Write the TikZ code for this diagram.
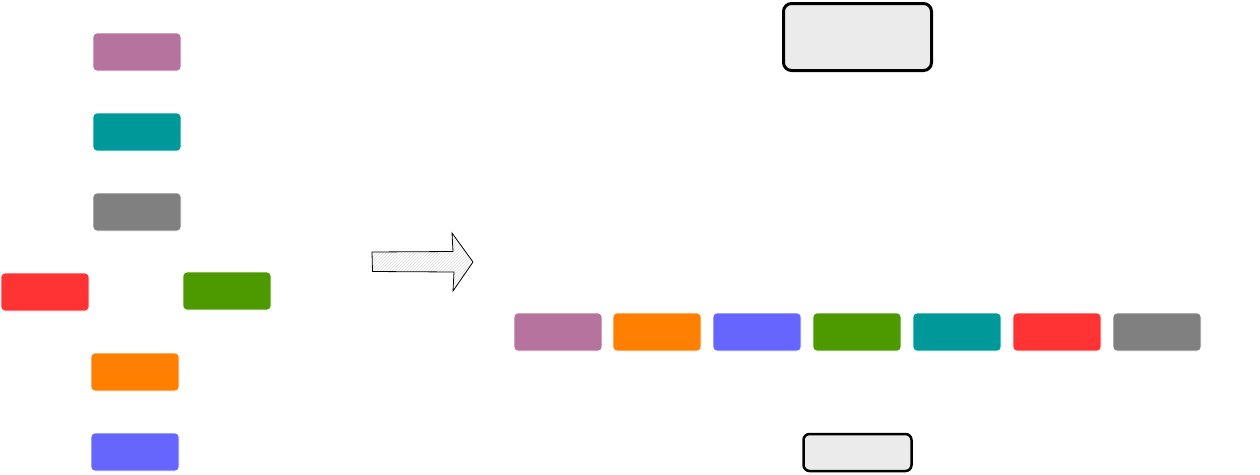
\documentclass[tikz,border=0pt]{standalone}
\usetikzlibrary{patterns}
\definecolor{cpurple}{HTML}{B5739D}
\definecolor{cteal}{HTML}{009999}
\definecolor{cgray}{HTML}{808080}
\definecolor{cred}{HTML}{FF3333}
\definecolor{cgreen}{HTML}{4D9900}
\definecolor{corange}{HTML}{FF8000}
\definecolor{cblue}{HTML}{6666FF}
\definecolor{cbox}{HTML}{EBEBEB}
\begin{document}
\begin{tikzpicture}[x=1pt,y=-1pt,
  tag/.style={draw=white,line width=0.6pt,rounded corners=4pt,minimum width=88pt,minimum height=38pt,inner sep=0pt},
  bigbox/.style={draw=black,line width=3pt,fill=cbox,rounded corners=8pt,inner sep=0pt}]
\useasboundingbox (0,0) rectangle (1260,474);
% left column
\node[tag,fill=cpurple] (l1) at (137,52) {};
\node[tag,fill=cteal]   (l2) at (137,132) {};
\node[tag,fill=cgray]   (l3) at (137,212) {};
\node[tag,fill=cred]    (l4) at (45,292) {};
\node[tag,fill=cgreen]  (l5) at (227,291) {};
\node[tag,fill=corange] (l6) at (135,372) {};
\node[tag,fill=cblue]   (l7) at (135,452) {};
% arrow
\draw[line width=0.8pt,pattern=north east lines,pattern color=gray!30,line join=miter]
  (372,252) -- (453,251.5) -- (452,233) -- (473,262) -- (453,291) -- (454,272) -- (372.5,271.5) -- cycle;
% right row
\node[tag,fill=cpurple] (r1) at (558,332) {};
\node[tag,fill=corange] (r2) at (657,332) {};
\node[tag,fill=cblue]   (r3) at (757,332) {};
\node[tag,fill=cgreen]  (r4) at (857,332) {};
\node[tag,fill=cteal]   (r5) at (957,332) {};
\node[tag,fill=cred]    (r6) at (1057,332) {};
\node[tag,fill=cgray]   (r7) at (1157,332) {};
% top and bottom boxes
\node[bigbox,minimum width=148pt,minimum height=67pt] (top) at (857.5,37) {};
\node[bigbox,line width=2.5pt,rounded corners=6pt,minimum width=108pt,minimum height=37pt] (bot) at (857.5,452.5) {};
\end{tikzpicture}
\end{document}
